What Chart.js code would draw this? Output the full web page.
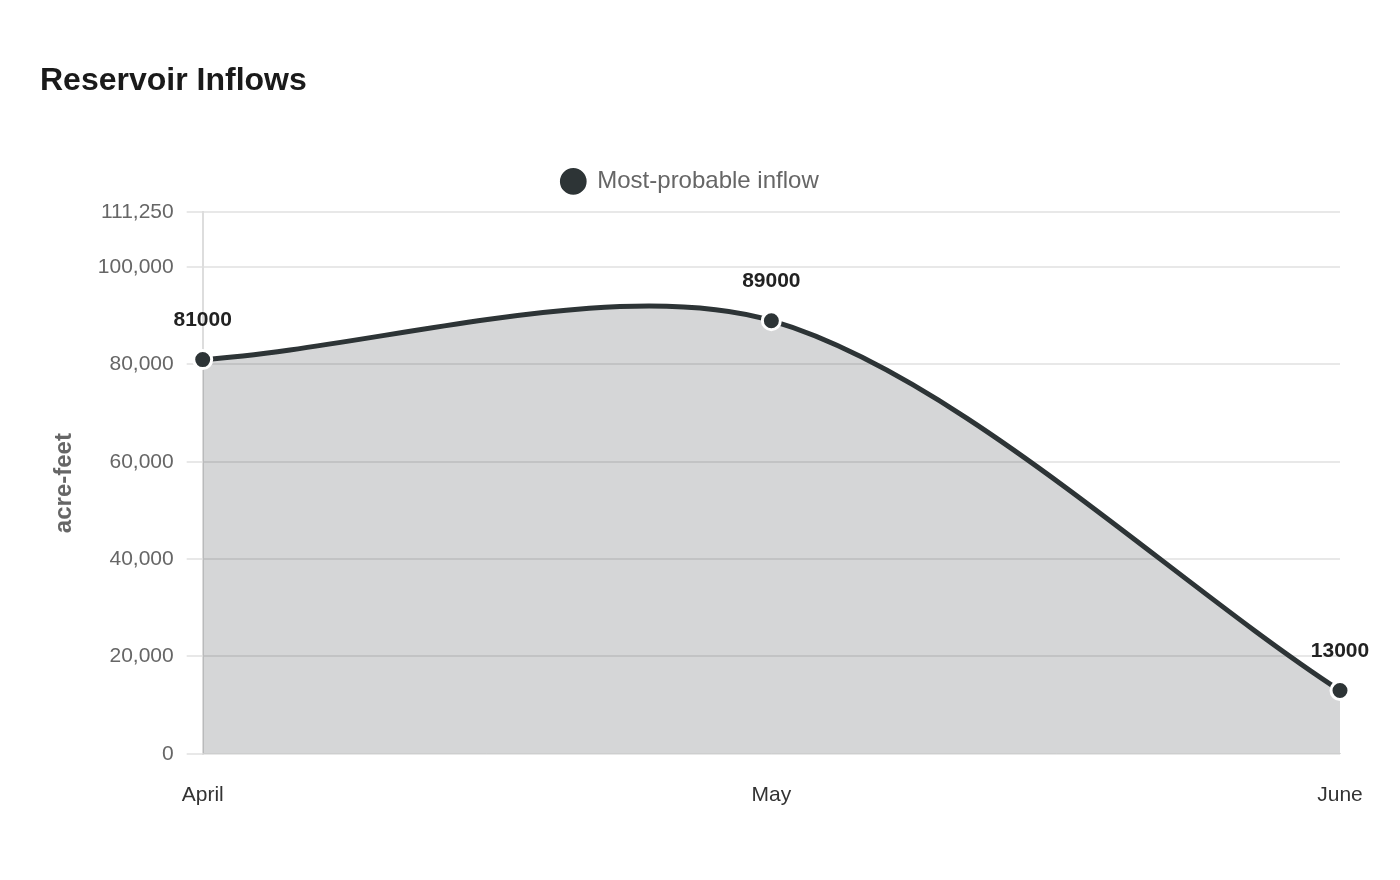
<!DOCTYPE html>
<html>
<head>
<meta charset="utf-8">
<title>Reservoir Inflows</title>
<script src="https://cdn.jsdelivr.net/npm/chart.js@4/dist/chart.umd.min.js"></script>
<style>
  html, body { margin: 0; padding: 0; background: #ffffff; }
  #wrap { width: 1400px; height: 880px; position: relative; }
</style>
</head>
<body>
<div id="wrap"><canvas id="inflowChart"></canvas></div>
<script>
const MONTHS = ['April', 'May', 'June'];
const INFLOW = [81000, 89000, 13000];
const SERIES_NAME = 'Most-probable inflow';
const Y_TICKS = [0, 20000, 40000, 60000, 80000, 100000, 111250];

const LINE_COLOR = '#2d3436';
const FONT = '"Liberation Sans", Arial, sans-serif';

// draws the value above each point
const valueLabels = {
  id: 'valueLabels',
  afterDatasetsDraw(chart) {
    const ctx = chart.ctx;
    const meta = chart.getDatasetMeta(0);
    ctx.save();
    ctx.font = 'bold 21px ' + FONT;
    ctx.fillStyle = '#222222';
    ctx.textAlign = 'center';
    ctx.textBaseline = 'middle';
    meta.data.forEach((pt, i) => {
      ctx.fillText(String(chart.data.datasets[0].data[i]), pt.x, pt.y - 39);
    });
    ctx.restore();
  }
};

// a bit more room under the legend
const legendGap = {
  id: 'legendGap',
  beforeInit(chart) {
    const fit = chart.legend.fit;
    chart.legend.fit = function () {
      fit.call(this);
      this.height += 9;
    };
  }
};

const ctx = document.getElementById('inflowChart').getContext('2d');
new Chart(ctx, {
  type: 'line',
  data: {
    labels: MONTHS,
    datasets: [{
      label: SERIES_NAME,
      data: INFLOW,
      borderColor: LINE_COLOR,
      backgroundColor: 'rgba(45, 52, 54, 0.2)',
      borderWidth: 5,
      fill: 'origin',
      tension: 0.3,
      pointRadius: 9,
      pointBorderWidth: 3,
      pointBorderColor: '#ffffff',
      pointBackgroundColor: LINE_COLOR,
    }]
  },
  options: {
    responsive: true,
    maintainAspectRatio: false,
    animation: false,
    layout: { padding: { left: 40, right: 60, top: 62, bottom: 43 } },
    plugins: {
      title: {
        display: true,
        text: 'Reservoir Inflows',
        align: 'start',
        color: '#1a1a1a',
        font: { family: FONT, size: 32, weight: 'bold' },
        padding: { top: 0, bottom: 44 }
      },
      legend: {
        display: true,
        labels: {
          usePointStyle: true,
          pointStyle: 'circle',
          boxHeight: 21,
          color: '#666666',
          font: { family: FONT, size: 24 },
          padding: 25
        }
      },
      tooltip: { enabled: false }
    },
    scales: {
      x: {
        grid: { display: false, drawTicks: false },
        border: { display: true, color: '#dddddd' },
        ticks: { color: '#333333', font: { family: FONT, size: 21 }, padding: 29 }
      },
      y: {
        min: 0,
        max: Y_TICKS[Y_TICKS.length - 1],
        afterBuildTicks: (scale) => {
          scale.ticks = Y_TICKS.map(v => ({ value: v }));
        },
        grid: { color: '#e8e8e8', lineWidth: 2, tickLength: 16 },
        border: { display: true, color: '#dddddd', width: 2 },
        ticks: {
          color: '#666666',
          font: { family: FONT, size: 21 },
          padding: 13,
          callback: (v) => v.toLocaleString('en-US')
        },
        title: {
          display: true,
          text: 'acre-feet',
          color: '#666666',
          font: { family: FONT, size: 24, weight: 'bold' },
          padding: { top: 10, bottom: 6 }
        }
      }
    }
  },
  plugins: [valueLabels, legendGap]
});
</script>
</body>
</html>
